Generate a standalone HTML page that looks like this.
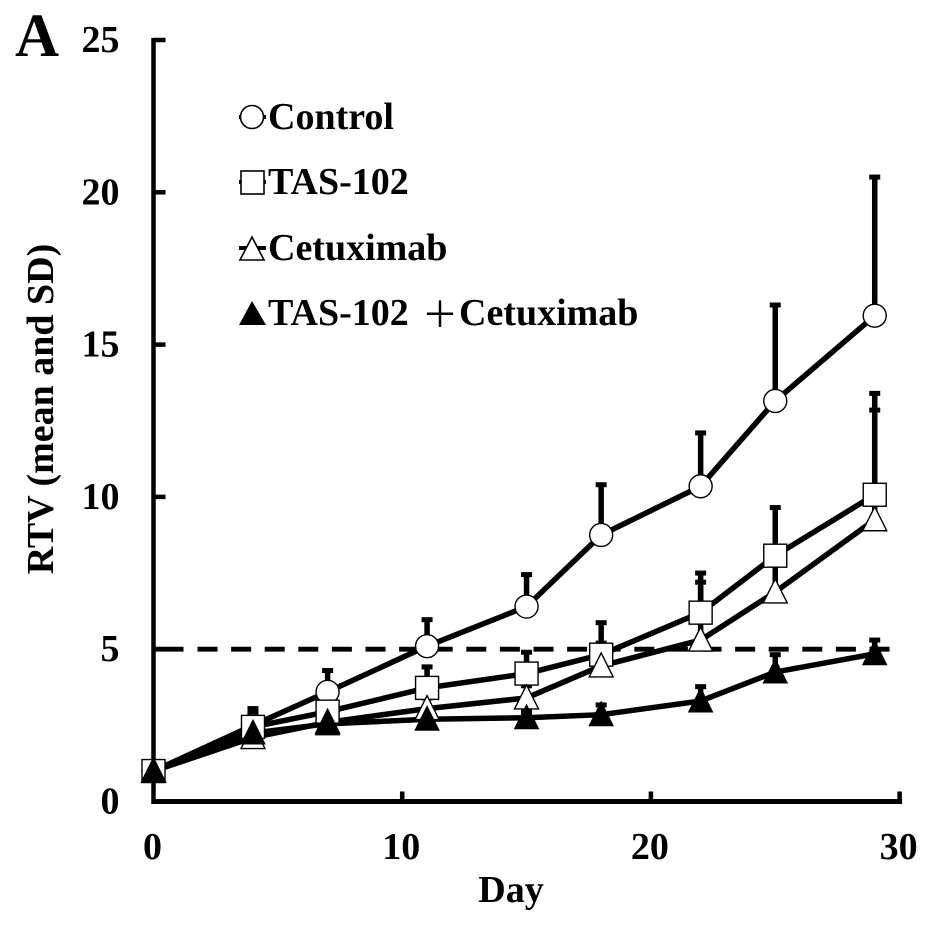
<!DOCTYPE html>
<html>
<head>
<meta charset="utf-8">
<title>RTV chart</title>
<style>
html,body{margin:0;padding:0;background:#fff;width:945px;height:938px;overflow:hidden}
svg{display:block}
text{font-family:"Liberation Serif","Noto Serif CJK SC",serif;font-weight:bold;fill:#000}
</style>
</head>
<body>
<svg id="chart" width="945" height="938" viewBox="0 0 945 938" xmlns="http://www.w3.org/2000/svg">
<rect width="945" height="938" fill="#fff"/>
<text x="15" y="56" font-size="61">A</text>
<text transform="translate(53,409) rotate(-90)" text-anchor="middle" font-size="38">RTV (mean and SD)</text>
<text x="511" y="902" text-anchor="middle" font-size="38">Day</text>
<g id="plot"></g>
<g>
  <g>
    <line x1="239" x2="266" y1="117" y2="117" stroke="#000" stroke-width="4"/>
    <circle cx="252" cy="117" r="11.5" fill="#fff" stroke="#000" stroke-width="1.6"/>
    <text x="268" y="129" font-size="38">Control</text>
  </g>
  <g>
    <line x1="239" x2="266" y1="182" y2="182" stroke="#000" stroke-width="4"/>
    <rect x="241" y="171" width="23" height="23" fill="#fff" stroke="#000" stroke-width="1.6"/>
    <text x="268" y="194" font-size="38">TAS-102</text>
  </g>
  <g>
    <line x1="239" x2="266" y1="248" y2="248" stroke="#000" stroke-width="4"/>
    <polygon points="252,237 240,260 264,260" fill="#fff" stroke="#000" stroke-width="1.6"/>
    <text x="268" y="260" font-size="38">Cetuximab</text>
  </g>
  <g>
    <polygon points="252,301 239,325 266,325" fill="#000"/>
    <text x="268" y="325" font-size="38">TAS-102</text>
    <text x="422" y="327" font-size="36" style="font-family:'Noto Sans CJK JP',sans-serif;font-weight:normal">＋</text>
    <text x="459" y="325" font-size="38">Cetuximab</text>
  </g>
</g>
</svg>
<script>
const days = [0, 4, 7, 11, 15, 18, 22, 25, 29];
const controlMean = [1, 2.5, 3.6, 5.1, 6.4, 8.75, 10.35, 13.15, 15.95];
const controlTop = [1, 3.05, 4.3, 5.97, 7.45, 10.4, 12.1, 16.3, 20.5];
const tasMean = [1, 2.45, 2.95, 3.73, 4.2, 4.82, 6.2, 8.07, 10.07];
const tasTop = [1, 2.9, 3.3, 4.42, 4.9, 5.87, 7.5, 9.65, 13.4];
const cetuxMean = [1, 2.1, 2.6, 3.05, 3.4, 4.45, 5.3, 6.88, 9.25];
const cetuxTop = [1, 2.4, 2.9, 3.4, 3.8, 5.2, 7.2, 8.2, 12.85];
const comboMean = [1, 2.25, 2.55, 2.7, 2.75, 2.85, 3.3, 4.25, 4.85];
const comboTop = [1, 2.5, 2.8, 2.95, 2.95, 3.17, 3.77, 4.82, 5.3];
const xTicks = [0, 10, 20, 30];
const yTicks = [0, 5, 10, 15, 20, 25];
const referenceValue = 5;
const referenceEndDay = 29.6;

const NS = 'http://www.w3.org/2000/svg';
const plot = document.getElementById('plot');
function xScale(v) { return 153.5 + v * 24.87; }
function yScale(v) { return 801.5 - v * 30.46; }
function add(tag, attrs, parent) {
  const el = document.createElementNS(NS, tag);
  for (const k in attrs) el.setAttribute(k, attrs[k]);
  (parent || plot).appendChild(el);
  return el;
}

// Axes
const yAxis = add('line', {x1: xScale(0), x2: xScale(0), y1: yScale(25) - 2, y2: yScale(0) + 2.5, stroke: '#000', 'stroke-width': 4.5});


const xAxis = add('line', {x1: xScale(0) - 2, x2: xScale(30) + 2.5, y1: yScale(0), y2: yScale(0), stroke: '#000', 'stroke-width': 5});



yTicks.forEach(function (t) {
  if (t !== 0) {
    const tick = add('line', {x1: xScale(0), x2: xScale(0) + 12, y1: yScale(t), y2: yScale(t), stroke: '#000', 'stroke-width': 4.5});
    
    
  }
  const label = add('text', {x: 119.5, y: yScale(t) + 12, 'text-anchor': 'end', 'font-size': 38});
  label.textContent = t;
  
  
});
xTicks.forEach(function (t) {
  if (t !== 0) {
    const tick = add('line', {x1: xScale(t), x2: xScale(t), y1: yScale(0), y2: yScale(0) - 10, stroke: '#000', 'stroke-width': 4.5});
    
    
  }
  const label = add('text', {x: xScale(t) - 1, y: 859, 'text-anchor': 'middle', 'font-size': 38});
  label.textContent = t;
  
  
});

// Reference line
const refLine = add('line', {x1: xScale(0), x2: xScale(referenceEndDay), y1: yScale(referenceValue), y2: yScale(referenceValue), stroke: '#000', 'stroke-width': 4.8});
refLine.setAttribute('stroke-dasharray', '30 14 20 13.6 20 13.6 20 13.6 20 13.6 20 13.6 20 13.6 20 13.6 20 13.6 20 13.6 20 13.6 20 13.6 20 13.6 20 13.6 20 13.6 20 13.6 20 13.6 20 13.6 20 13.6 20 13.6 20 13.6 20 13.6');



function drawErrors(tops, means) {
  days.forEach(function (d, i) {
    if (tops[i] <= means[i]) return;
    const x = xScale(d);
    const bar = add('line', {x1: x, x2: x, y1: yScale(means[i]), y2: yScale(tops[i]), stroke: '#000', 'stroke-width': 5.5});
    
    
    const cap = add('line', {x1: x - 5.5, x2: x + 5.5, y1: yScale(tops[i]), y2: yScale(tops[i]), stroke: '#000', 'stroke-width': 5});
    
    
  });
}
function drawLine(means) {
  const pts = days.map(function (d, i) { return xScale(d) + ',' + yScale(means[i]); }).join(' ');
  const line = add('polyline', {points: pts, fill: 'none', stroke: '#000', 'stroke-width': 5.5, 'stroke-linejoin': 'round'});
  
  
}
function drawMarkers(means, kind) {
  days.forEach(function (d, i) {
    const x = xScale(d), y = yScale(means[i]);
    let m;
    if (kind === 'circle') {
      m = add('circle', {cx: x, cy: y, r: 11.5, fill: '#fff', stroke: '#000', 'stroke-width': 1.4});
    } else if (kind === 'square') {
      m = add('rect', {x: x - 11.5, y: y - 11.5, width: 23, height: 23, fill: '#fff', stroke: '#000', 'stroke-width': 1.4});
    } else {
      const pts = x + ',' + (y - 13) + ' ' + (x - 12) + ',' + (y + 11) + ' ' + (x + 12) + ',' + (y + 11);
      if (kind === 'triangle') {
        m = add('polygon', {points: pts, fill: '#fff', stroke: '#000', 'stroke-width': 1.4});
      } else {
        m = add('polygon', {points: pts, fill: '#000', stroke: '#000', 'stroke-width': 1});
      }
    }
    
    
  });
}

drawErrors(controlTop, controlMean);
drawErrors(tasTop, tasMean);
drawErrors(cetuxTop, cetuxMean);
drawErrors(comboTop, comboMean);
drawLine(controlMean);
drawLine(tasMean);
drawLine(cetuxMean);
drawLine(comboMean);
drawMarkers(controlMean, 'circle');
drawMarkers(tasMean, 'square');
drawMarkers(cetuxMean, 'triangle');
drawMarkers(comboMean, 'filled-triangle');
</script>
</body>
</html>
